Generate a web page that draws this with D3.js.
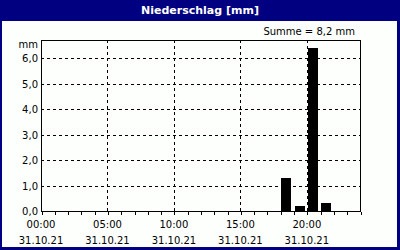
<!DOCTYPE html>
<html>
<head>
<meta charset="utf-8">
<script src="https://cdn.jsdelivr.net/npm/d3@7.9.0/dist/d3.min.js"></script>
<style>
  body { margin: 0; background: #fff; }
  text { font-family: "DejaVu Sans", sans-serif; font-size: 10px; fill: #000; }
</style>
</head>
<body>
<svg id="chart" width="400" height="250"></svg>
<script>
// hourly precipitation (hour of day -> mm)
const hours = [18, 19, 20, 21];
const values = [1.3, 0.2, 6.4, 0.3];
const yTicks = [0, 1, 2, 3, 4, 5, 6];
const xTicks = [0, 5, 10, 15, 20];
const dateLabel = '31.10.21';

const svg = d3.select('#chart');
const navy = '#000080';

// frame + title bar
svg.append('rect').attr('width', 400).attr('height', 250).attr('fill', navy);
svg.append('rect').attr('x', 2).attr('y', 21).attr('width', 395).attr('height', 226).attr('fill', '#fcfffc');
svg.append('text').attr('x', 200).attr('y', 14).attr('text-anchor', 'middle')
  .style('fill', '#fff').style('font-weight', 'bold').style('font-size', '11px')
  .text('Niederschlag [mm]');

const pLeft = 41, pRight = 360, pTop = 40, pBottom = 211;
const x = d3.scaleLinear().domain([0, 24]).range([pLeft, pRight]);
const y = d3.scaleLinear().domain([0, 6.72]).range([pBottom, pTop]);

const fmt = d => d.toFixed(1).replace('.', ',');
const total = d3.sum(values);
svg.append('text').attr('x', 355).attr('y', 35).attr('text-anchor', 'end')
  .text(`Summe = ${fmt(total)} mm`);

// grid
const grid = svg.append('g').attr('stroke', '#000').attr('stroke-dasharray', '3,3').attr('shape-rendering', 'crispEdges');
yTicks.filter(d => d > 0).forEach(d => {
  grid.append('line').attr('x1', pLeft).attr('x2', pRight)
    .attr('y1', Math.round(y(d)) + 0.5).attr('y2', Math.round(y(d)) + 0.5);
});
xTicks.filter(d => d > 0).forEach(d => {
  grid.append('line').attr('y1', pTop).attr('y2', pBottom)
    .attr('x1', Math.round(x(d)) + 0.5).attr('x2', Math.round(x(d)) + 0.5);
});

// bars
svg.append('g').selectAll('rect').data(hours).join('rect')
  .attr('x', d => Math.round(x(d)) + 1)
  .attr('width', 10)
  .attr('y', (d, i) => Math.round(y(values[i])))
  .attr('height', (d, i) => pBottom - Math.round(y(values[i])))
  .attr('fill', '#000');

// plot box
svg.append('rect').attr('x', pLeft + 0.5).attr('y', pTop + 0.5)
  .attr('width', pRight - pLeft).attr('height', pBottom - pTop)
  .attr('fill', 'none').attr('stroke', '#000').attr('shape-rendering', 'crispEdges');

// y axis labels
svg.append('g').selectAll('text').data(yTicks).join('text')
  .attr('x', 38).attr('y', d => y(d) + 4).attr('text-anchor', 'end')
  .text(d => fmt(d));
svg.append('text').attr('x', 38).attr('y', 48).attr('text-anchor', 'end').text('mm');

// x axis: hourly minor ticks
const xAxis = d3.axisBottom(x).tickValues(d3.range(0, 25)).tickSize(3).tickFormat('');
const gx = svg.append('g').attr('transform', `translate(0.5,${pBottom + 0.5})`).call(xAxis);
gx.select('.domain').remove();
gx.selectAll('line').attr('shape-rendering', 'crispEdges');

const lab = svg.append('g').selectAll('g').data(xTicks).join('g')
  .attr('transform', d => `translate(${x(d)},0)`);
lab.append('text').attr('y', 228).attr('text-anchor', 'middle')
  .text(d => String(d).padStart(2, '0') + ':00');
lab.append('text').attr('y', 244).attr('text-anchor', 'middle').text(dateLabel);
</script>
</body>
</html>
